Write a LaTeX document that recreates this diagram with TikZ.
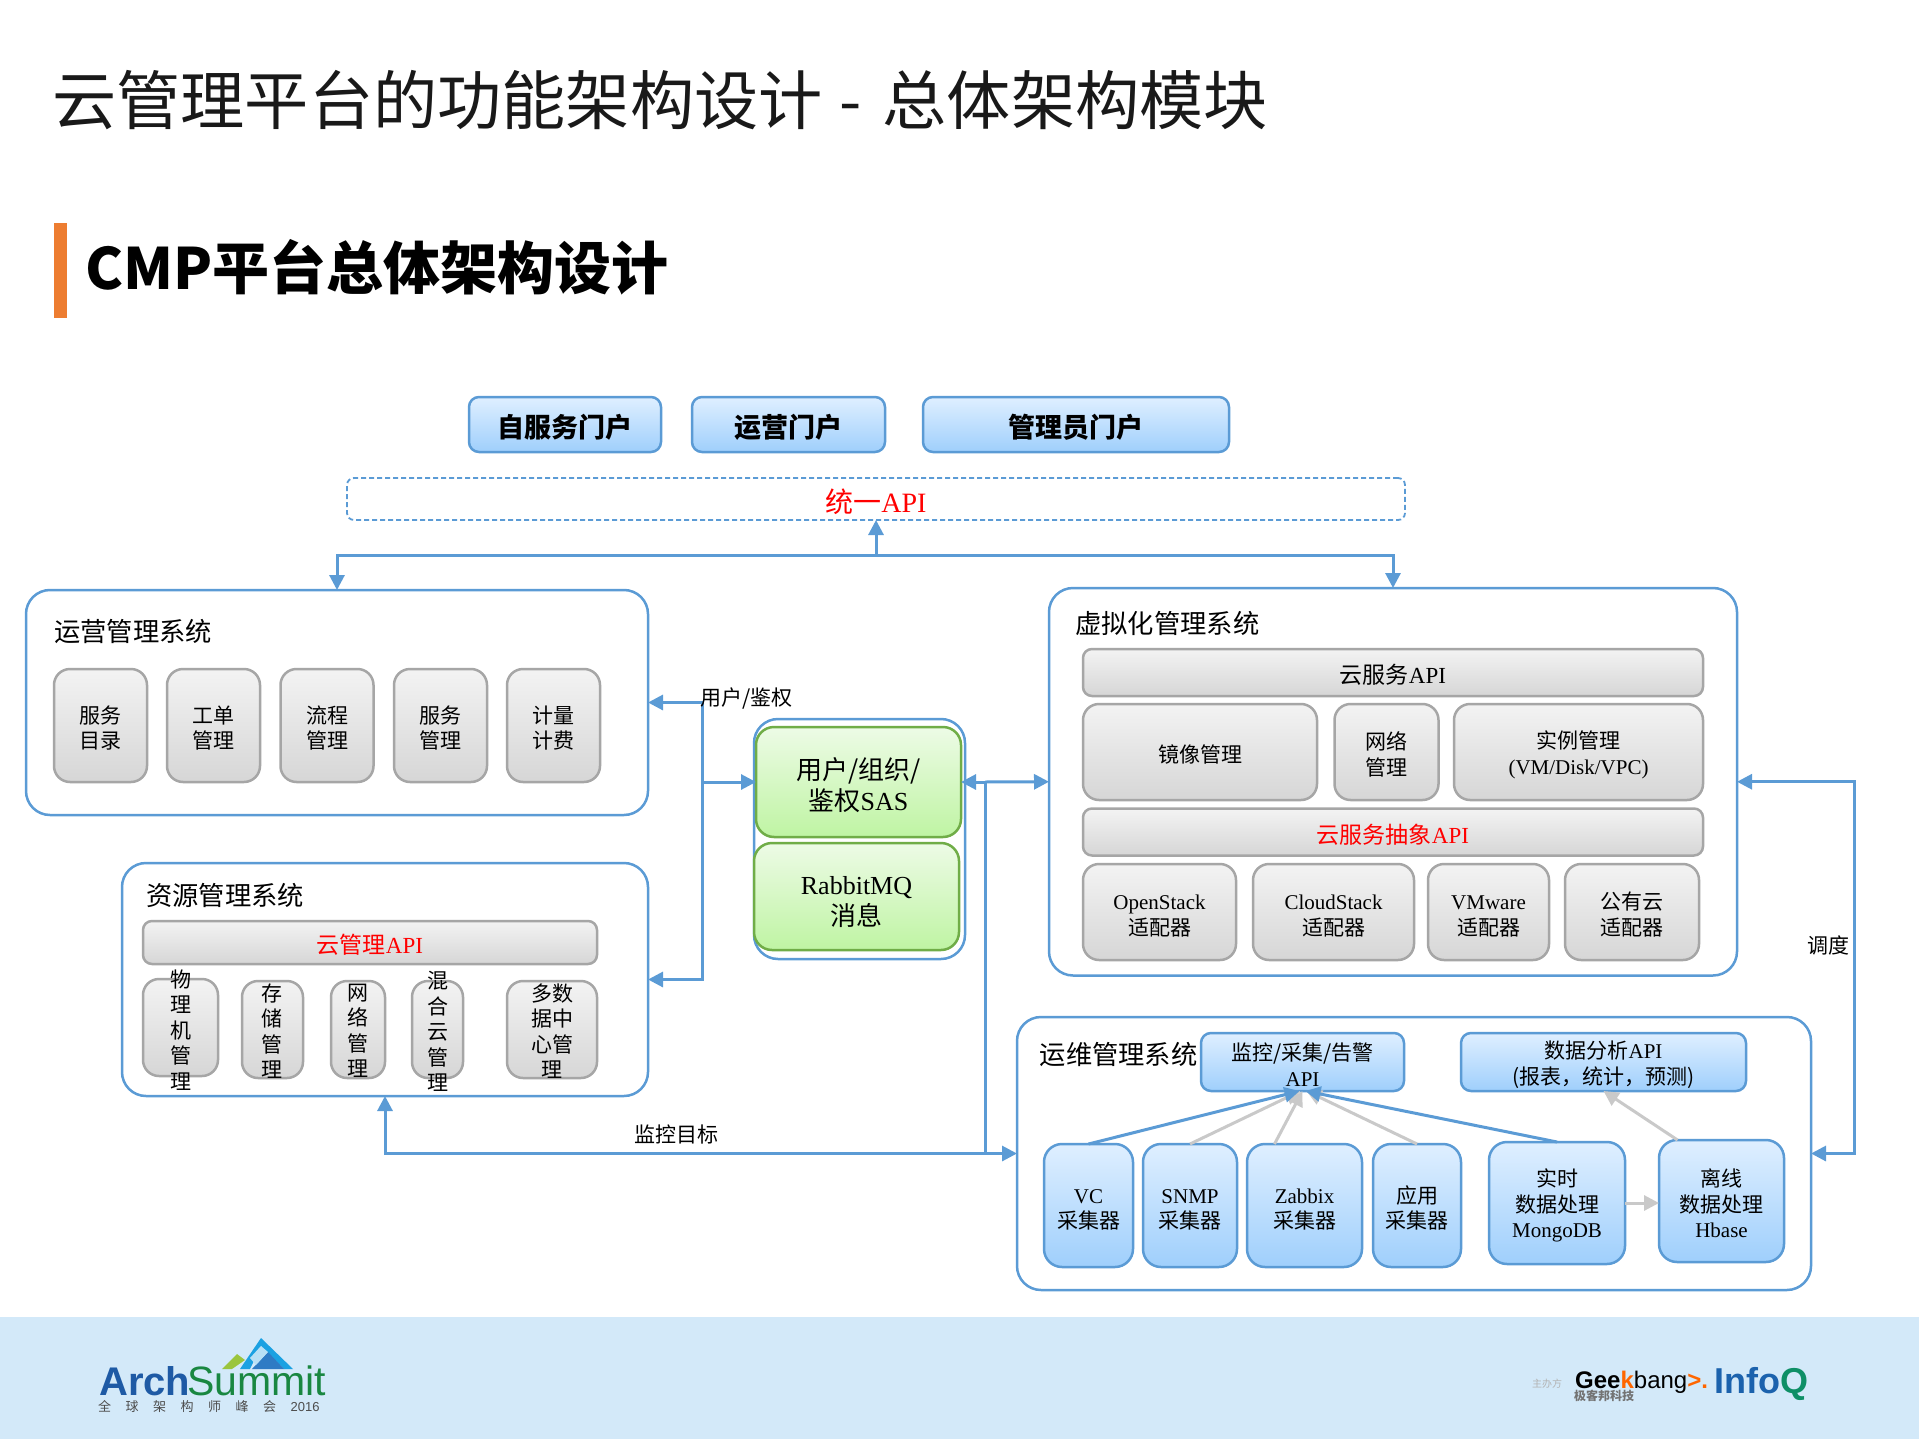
\documentclass[tikz,border=0pt]{standalone}
\usepackage{fontspec}
\setmainfont{Noto Sans CJK SC}
\newfontfamily\lat{Liberation Serif}
\newfontfamily\logofont{Liberation Sans}
\newcommand{\en}[1]{{\lat #1}}
\newcommand{\gap}{\hspace{14.5pt}}
\usetikzlibrary{arrows.meta}
\definecolor{lineblue}{HTML}{5B9BD5}
\definecolor{footblue}{HTML}{D3E9F9}
\definecolor{barorange}{HTML}{ED7D31}
\definecolor{topgray}{HTML}{F3F3F3}
\definecolor{botgray}{HTML}{D6D6D6}
\definecolor{edgegray}{HTML}{A6A6A6}
\definecolor{topblue}{HTML}{DFEFFF}
\definecolor{botblue}{HTML}{9FCFFC}
\definecolor{topgreen}{HTML}{EDFBE6}
\definecolor{botgreen}{HTML}{BFF4A3}
\definecolor{edgegreen}{HTML}{70AD47}
\definecolor{arrowgray}{HTML}{C9C9C9}
\definecolor{logoolive}{HTML}{9BC53D}
\definecolor{logocyan}{HTML}{1BA1E2}
\definecolor{logodeep}{HTML}{2F7BC4}
\definecolor{logopale}{HTML}{B9E0F5}
\definecolor{archblue}{HTML}{1E5AA5}
\definecolor{summitgreen}{HTML}{198741}
\definecolor{infoblue}{HTML}{1B62AD}
\definecolor{infogreen}{HTML}{0E8F66}
\tikzset{
  t21/.style={font=\fontsize{21}{25.5}\selectfont},
  t23/.style={font=\fontsize{23}{27}\selectfont},
  t26/.style={font=\fontsize{26}{31}\selectfont},
  lowered/.style={execute at begin node={\rule{0pt}{1.06em}}},
  twoline/.style={execute at begin node={\rule{0pt}{\dimexpr\baselineskip+1.1em\relax}}},
  threeline/.style={execute at begin node={\rule{0pt}{\dimexpr2\baselineskip+1.1em\relax}}},
  sysbox/.style={draw=lineblue,fill=white,line width=2.5pt,rounded corners=24pt,inner sep=0pt,outer sep=0pt},
  systitle/.style={font=\fontsize{26.3}{31}\selectfont,anchor=west,inner sep=0pt},
  graybox/.style={draw=edgegray,top color=topgray,bottom color=botgray,line width=2.5pt,rounded corners=16pt,inner sep=0pt,outer sep=0pt,align=center,t21,lowered},
  graytwo/.style={graybox,twoline},
  graybar/.style={graybox,rounded corners=9pt,t23},
  bluebox/.style={draw=lineblue,top color=topblue,bottom color=botblue,line width=2.5pt,rounded corners=18pt,inner sep=0pt,outer sep=0pt,align=center,t21,lowered},
  bluetwo/.style={bluebox,twoline},
  bluethree/.style={bluebox,threeline},
  bluebar/.style={bluebox,rounded corners=10pt},
  portal/.style={bluebar,minimum height=55pt,font=\fontsize{27}{30}\selectfont\bfseries},
  greenbox/.style={draw=edgegreen,top color=topgreen,bottom color=botgreen,line width=2.5pt,rounded corners=18pt,inner sep=0pt,outer sep=0pt,align=center,t26,twoline},
  overtext/.style={t21,align=center,inner sep=0pt},
  conn/.style={draw=lineblue,line width=3pt},
  arr/.style={conn,-{Triangle[length=15pt,width=15pt]}},
  grayarr/.style={draw=arrowgray,line width=3pt,-{Triangle[length=15pt,width=15pt]}},
}

\begin{document}
\begin{tikzpicture}[x=1pt,y=-1pt]
    \useasboundingbox (0,0) rectangle (1919,1439);

    % 绘制页面标题
    \node[anchor=west,inner sep=0pt,text=black!90,font=\fontsize{64.2}{70}\selectfont] (title) at (52,100) {云管理平台的功能架构设计\hspace{3pt} - \hspace{6pt}总体架构模块};
    \fill[barorange] (54,223) rectangle (67,318);
    \node[anchor=west,inner sep=0pt,font=\fontsize{57}{60}\selectfont\bfseries] (subtitle) at (85,267) {CMP平台总体架构设计};

    % 绘制门户
    \node[portal,minimum width=192pt] (selfportal) at (565,424.5) {自服务门户};
    \node[portal,minimum width=193pt] (opsportal) at (788.5,424.5) {运营门户};
    \node[portal,minimum width=306pt] (adminportal) at (1076,424.5) {管理员门户};

    % 绘制统一API
    \node[draw=lineblue,dash pattern=on 5pt off 3pt,line width=1.8pt,rounded corners=7pt,inner sep=0pt,outer sep=0pt,minimum width=1058pt,minimum height=42pt,text=red,font=\fontsize{28}{32}\selectfont,lowered] (api) at (876,499) {统一\en{API}};

    % 绘制运营管理系统
    \node[sysbox,minimum width=622pt,minimum height=225pt] (yunying) at (337,702.5) {};
    \node[systitle] (yunyingtitle) at (54,632) {运营管理系统};
    \node[graytwo,minimum width=93pt,minimum height=113pt] (catalog) at (100.5,725.5) {服务\\目录};
    \node[graytwo,minimum width=93pt,minimum height=113pt] (ticket) at (213.5,725.5) {工单\\管理};
    \node[graytwo,minimum width=93pt,minimum height=113pt] (flow) at (327,725.5) {流程\\管理};
    \node[graytwo,minimum width=93pt,minimum height=113pt] (service) at (440.5,725.5) {服务\\管理};
    \node[graytwo,minimum width=93pt,minimum height=113pt] (billing) at (553.5,725.5) {计量\\计费};

    % 绘制资源管理系统，竖排文字超出方框
    \node[sysbox,minimum width=526pt,minimum height=233pt] (ziyuan) at (385,979.5) {};
    \node[systitle] (ziyuantitle) at (146,895) {资源管理系统};
    \node[graybar,minimum width=454pt,minimum height=43pt,text=red] (cloudapi) at (370,942.5) {云管理\en{API}};
    \node[graybox,minimum width=75pt,minimum height=97pt] (physical) at (180.5,1027.5) {};
    \node[graybox,minimum width=61pt,minimum height=97pt] (storage) at (272.5,1029.5) {};
    \node[graybox,minimum width=54pt,minimum height=97pt] (network) at (358,1029.5) {};
    \node[graybox,minimum width=51pt,minimum height=97pt] (hybrid) at (437.5,1029.5) {};
    \node[graybox,minimum width=90pt,minimum height=97pt] (multidc) at (552,1029.5) {};
    \node[overtext] (physicaltext) at (180.5,1030) {物\\理\\机\\管\\理};
    \node[overtext] (storagetext) at (272,1031) {存\\储\\管\\理};
    \node[overtext] (networktext) at (358,1031) {网\\络\\管\\理};
    \node[overtext] (hybridtext) at (437.5,1031.5) {混\\合\\云\\管\\理};
    \node[overtext] (multidctext) at (552,1031) {多数\\据中\\心管\\理};

    % 绘制中间的用户与消息
    \node[sysbox,minimum width=211pt,minimum height=240pt] (middle) at (859.5,839) {};
    \node[greenbox,minimum width=205pt,minimum height=110pt] (usersas) at (858.5,782) {用户/组织/\\鉴权\en{SAS}};
    \node[greenbox,minimum width=205pt,minimum height=107pt] (rabbit) at (856.5,896.5) {\en{RabbitMQ}\\消息};

    % 绘制虚拟化管理系统
    \node[sysbox,minimum width=688pt,minimum height=387.5pt] (xuni) at (1393,781.75) {};
    \node[systitle] (xunititle) at (1075,623) {虚拟化管理系统};
    \node[graybar,minimum width=620pt,minimum height=47pt] (serviceapi) at (1393,672.5) {云服务\en{API}};
    \node[graybox,minimum width=234pt,minimum height=96pt] (image) at (1200,752) {镜像管理};
    \node[graytwo,minimum width=104pt,minimum height=96pt] (vnet) at (1386.5,752) {网络\\管理};
    \node[graytwo,minimum width=249pt,minimum height=96pt] (instance) at (1578.5,752) {实例管理\\\en{(VM/Disk/VPC)}};
    \node[graybar,minimum width=620pt,minimum height=47pt,text=red] (abstractapi) at (1393,832) {云服务抽象\en{API}};
    \node[graytwo,minimum width=153pt,minimum height=96pt] (openstack) at (1159.5,912) {\en{OpenStack}\\适配器};
    \node[graytwo,minimum width=161pt,minimum height=96pt] (cloudstack) at (1333.5,912) {\en{CloudStack}\\适配器};
    \node[graytwo,minimum width=121pt,minimum height=96pt] (vmware) at (1488.5,912) {\en{VMware}\\适配器};
    \node[graytwo,minimum width=134pt,minimum height=96pt] (publiccloud) at (1632,912) {公有云\\适配器};

    % 绘制运维管理系统
    \node[sysbox,minimum width=794pt,minimum height=273pt] (yunwei) at (1414,1153.5) {};
    \node[systitle] (yunweititle) at (1039.5,1054) {运维管理系统};
    \node[bluebar,twoline,minimum width=203pt,minimum height=58pt] (monitor) at (1302.5,1062) {监控/采集/告警\\\en{API}};
    \node[bluebar,twoline,minimum width=285pt,minimum height=58pt] (analysis) at (1603.5,1062) {数据分析\en{API}\\(报表，统计，预测)};
    \node[bluetwo,minimum width=89pt,minimum height=123pt] (vc) at (1088.5,1205.5) {\en{VC}\\采集器};
    \node[bluetwo,minimum width=94pt,minimum height=123pt] (snmp) at (1190,1205.5) {\en{SNMP}\\采集器};
    \node[bluetwo,minimum width=115pt,minimum height=123pt] (zabbix) at (1304.5,1205.5) {\en{Zabbix}\\采集器};
    \node[bluetwo,minimum width=88pt,minimum height=123pt] (app) at (1417,1205.5) {应用\\采集器};
    \node[bluethree,minimum width=136pt,minimum height=122pt] (realtime) at (1557,1203) {实时\\数据处理\\\en{MongoDB}};
    \node[bluethree,minimum width=125pt,minimum height=122pt] (offline) at (1721.5,1201) {离线\\数据处理\\\en{Hbase}};

    % 绘制采集器到API的箭头
    \draw[grayarr] (snmp.north) -- ([xshift=-2pt]monitor.south);
    \draw[grayarr] ([xshift=-30pt]zabbix.north) -- (monitor.south);
    \draw[grayarr] (app.north) -- ([xshift=4pt]monitor.south);
    \draw[arr] (vc.north) -- ([xshift=-3pt]monitor.south);
    \draw[arr] (realtime.north) -- ([xshift=3pt]monitor.south);
    \draw[grayarr] ([xshift=-44pt]offline.north) -- (analysis.south);
    \draw[grayarr] (realtime.east) -- (realtime.east -| offline.west);

    % 绘制系统之间的连线
    \coordinate (apijoint) at (876,555);
    \draw[arr] (apijoint) -- (api.south);
    \draw[arr] (apijoint) -| (yunying.north);
    \draw[arr] (apijoint) -| (xuni.north);

    \coordinate (authjoint) at (702,782);
    \draw[arr] (authjoint) |- (yunying.east);
    \draw[arr] (authjoint) |- (ziyuan.east);
    \draw[arr] (authjoint) -- (usersas.west);

    \coordinate (msgjoint) at (985,782);
    \coordinate (monjoint) at (985,1153.5);
    \draw[arr] (msgjoint) -- (usersas.east);
    \draw[arr] (msgjoint) -- (xuni.west);
    \draw[conn] (msgjoint) -- (monjoint);
    \draw[arr] (monjoint) -- (yunwei.west);
    \draw[arr] (monjoint) -| (ziyuan.south);

    \coordinate (schedjoint) at (1854,960);
    \draw[arr] (schedjoint) |- (xuni.east);
    \draw[arr] (schedjoint) |- (yunwei.east);

    % 连线上的文字
    \node[t21,anchor=west,inner sep=0pt] (authlabel) at (700,699) {用户/鉴权};
    \node[t21,inner sep=0pt] (monlabel) at (676,1134.5) {监控目标};
    \node[t21,inner sep=0pt] (schedlabel) at (1828,945) {调度};

    % 绘制页脚和标志
    \fill[footblue] (0,1317) rectangle (1919,1439);
    \fill[logoolive] (222,1369) -- (237,1354) -- (245,1360) -- (232,1369) -- cycle;
    \fill[logocyan] (240,1369) -- (261,1338) -- (293,1369) -- (284,1369) -- (261,1346) -- (250,1369) -- cycle;
    \fill[logodeep] (252,1369) -- (268,1352) -- (284,1369) -- cycle;
    \fill[logopale] (250,1358) -- (261,1346) -- (268,1352) -- (256,1365) -- cycle;
    \node[anchor=base west,inner sep=0pt,text=archblue,font=\logofont\fontsize{40}{44}\selectfont\bfseries] (archtext) at (99,1395) {Arch};
    \node[anchor=base west,inner sep=0pt,text=summitgreen,font=\logofont\fontsize{41}{44}\selectfont] (summittext) at (187,1395) {Summit};
    \node[anchor=west,inner sep=0pt,text=black!70,font=\fontsize{13}{15}\selectfont] (summitsub) at (98,1406) {全\gap 球\gap 架\gap 构\gap 师\gap 峰\gap 会\gap {\logofont 2016}};
    \node[inner sep=0pt,text=black!30,font=\fontsize{10}{11}\selectfont] (hosttext) at (1547,1384) {主办方};
    \node[anchor=base west,inner sep=0pt,font=\logofont\fontsize{24}{26}\selectfont] (geektext) at (1575,1388) {\textbf{Gee}\textcolor{orange!80!red}{\textbf{k}}bang\textcolor{orange!80!red}{\textbf{>.}}};
    \node[inner sep=0pt,text=black!55,font=\fontsize{12}{14}\selectfont\bfseries] (geeksub) at (1604,1396) {极客邦科技};
    \node[anchor=base west,inner sep=0pt,font=\logofont\fontsize{36}{38}\selectfont\bfseries] (infoq) at (1714,1393) {\textcolor{infoblue}{Info}\textcolor{infogreen}{Q}};
\end{tikzpicture}
\end{document}
